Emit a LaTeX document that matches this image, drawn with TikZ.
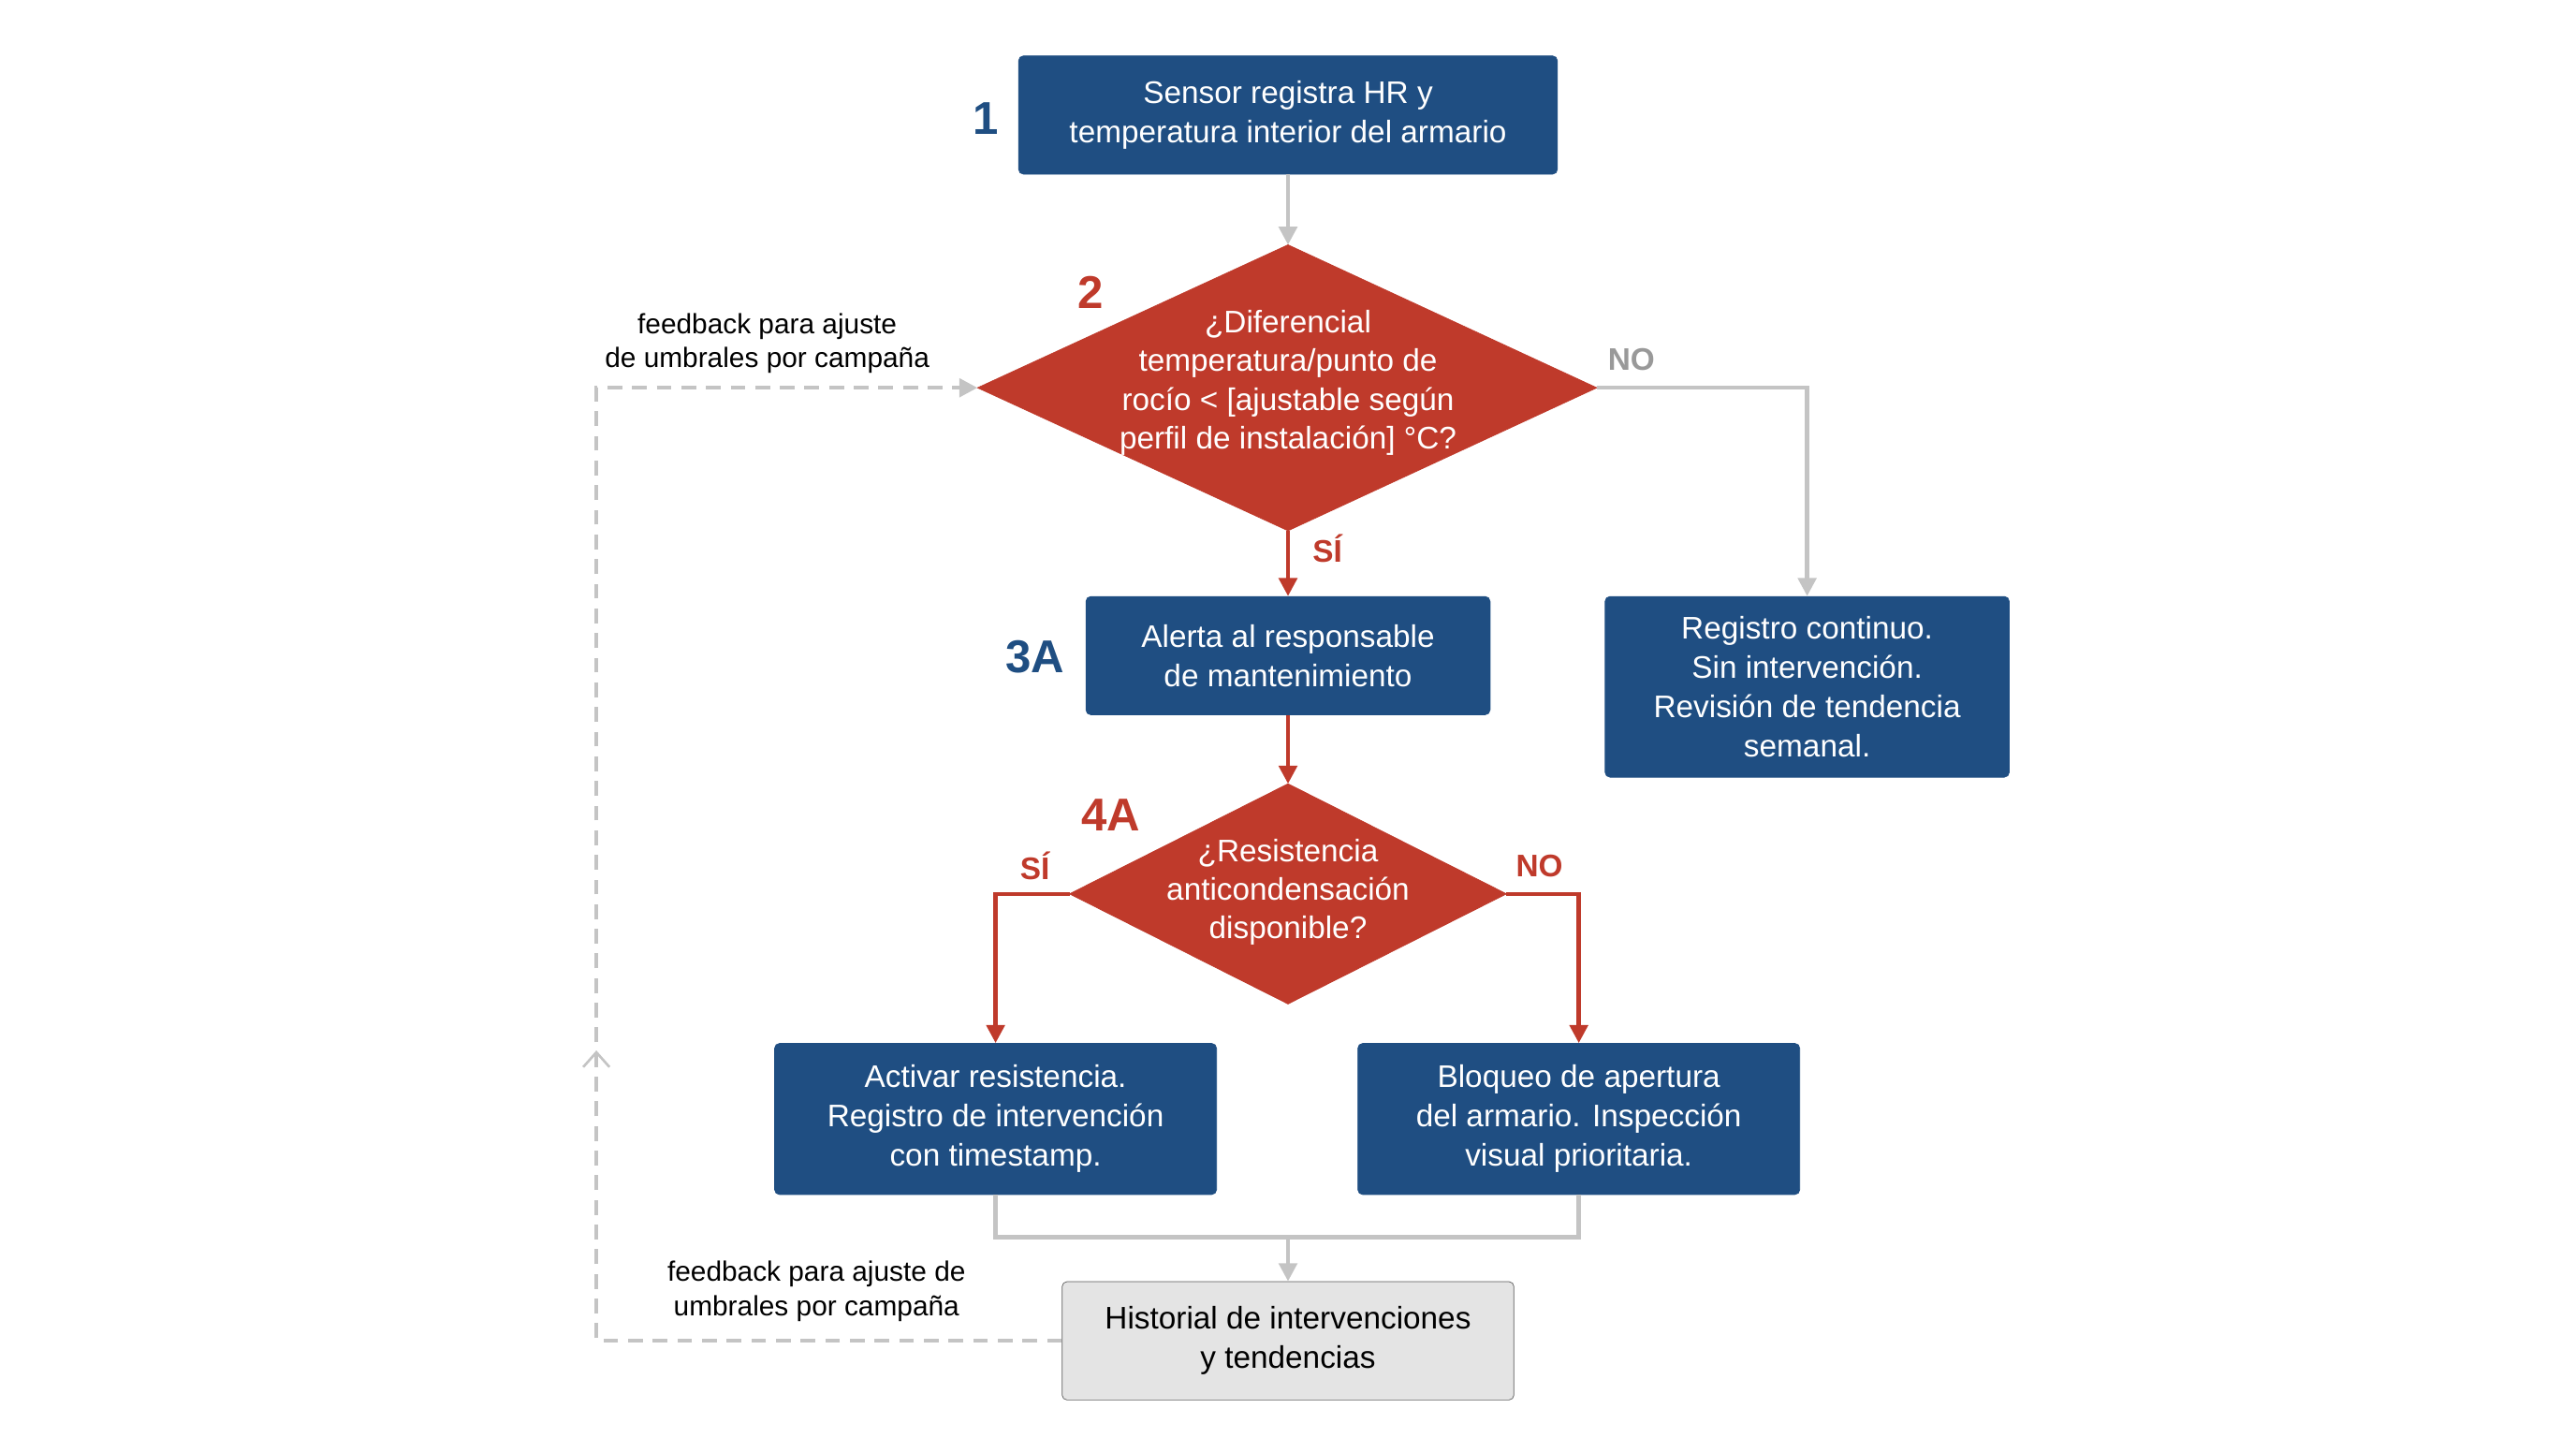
\documentclass[tikz,border=0pt]{standalone}
\usepackage{fontspec}
\setmainfont{Liberation Sans}
\usetikzlibrary{arrows.meta,shapes.geometric,decorations.markings}
\definecolor{cblue}{HTML}{1F4E82}
\definecolor{cred}{HTML}{BF3A2B}
\definecolor{cgray}{HTML}{C4C4C4}
\definecolor{hist}{HTML}{E4E4E4}
\begin{document}
\begin{tikzpicture}[x=1pt,y=-1pt,
 box/.style={draw=cblue,fill=cblue,rounded corners=3pt,text=white,align=center,font=\fontsize{19}{24}\selectfont,inner sep=0pt},
 dia/.style={diamond,draw=cred,fill=cred,text=white,align=center,font=\fontsize{19}{24}\selectfont,inner sep=0pt},
 num/.style={font=\fontsize{28}{30}\selectfont\bfseries},
 lab/.style={font=\fontsize{19}{22}\selectfont\bfseries},
 garr/.style={draw=cgray,line width=2.5pt,-{Triangle[length=11pt,width=11pt]}},
 gline/.style={draw=cgray,line width=2.5pt},
 rarr/.style={draw=cred,line width=2.5pt,-{Triangle[length=11pt,width=11pt]}},
 fb/.style={align=center,font=\fontsize{17}{21}\selectfont}]
\useasboundingbox (0,0) rectangle (1568,875);
\node[box,minimum width=328pt,minimum height=72pt] (b1) at (784,70) {Sensor registra HR y\\temperatura interior del armario};
\node[num,text=cblue] (n1) at (600,72) {1};
\path[draw=cred,fill=cred] (595,236) coordinate (d2l) -- (784,149) coordinate (d2t) -- (972,236) coordinate (d2r) -- (784,323) coordinate (d2b) -- cycle;
\node[text=white,align=center,font=\fontsize{19}{23.5}\selectfont] (d2) at (784,233) {¿Diferencial\\temperatura/punto de\\rocío < [ajustable según\\perfil de instalación] °C?};
\node[num,text=cred] (n2) at (664,178) {2};
\node[box,minimum width=246pt,minimum height=72pt] (b3) at (784,399) {Alerta al responsable\\de mantenimiento};
\node[num,text=cblue] (n3) at (630,400) {3A};
\node[box,minimum width=246pt,minimum height=110pt] (br) at (1100,418) {Registro continuo.\\Sin intervención.\\Revisión de tendencia\\semanal.};
\path[draw=cred,fill=cred] (651,544) coordinate (d4l) -- (784,477) coordinate (d4t) -- (917,544) coordinate (d4r) -- (784,611) coordinate (d4b) -- cycle;
\node[text=white,align=center,font=\fontsize{19}{23.5}\selectfont] (d4) at (784,543) {¿Resistencia\\anticondensación\\disponible?};
\node[num,text=cred] (n4) at (676,496) {4A};
\node[box,minimum width=269pt,minimum height=92pt] (ba) at (606,681) {Activar resistencia.\\Registro de intervención\\con timestamp.};
\node[box,minimum width=269pt,minimum height=92pt] (bb) at (961,681) {Bloqueo de apertura\\del armario. Inspección\\visual prioritaria.};
\node[box,draw=gray!70!black,fill=hist,text=black,minimum width=275pt,minimum height=72pt] (bh) at (784,816) {Historial de intervenciones\\y tendencias};
% connectors
\draw[garr] (b1.south) -- (d2t);
\draw[garr] (d2r) -- (1100,236) -- (br.north);
\node[lab,text=gray!80] (lno1) at (993,219) {NO};
\draw[rarr] (d2b) -- (b3.north);
\node[lab,text=cred] (lsi1) at (808,334) {SÍ};
\draw[rarr] (b3.south) -- (d4t);
\draw[rarr] (d4l) -- (606,544) -- (ba.north);
\draw[rarr] (d4r) -- (961,544) -- (bb.north);
\node[lab,text=cred] (lsi2) at (630,527) {SÍ};
\node[lab,text=cred] (lno2) at (937,527) {NO};
\draw[gline] (ba.south) -- (606,753) -- (961,753) -- (bb.south);
\coordinate (mj) at (784,753);
\draw[garr] (mj) -- (bh.north);
\draw[draw=cgray,line width=2.5pt,dash pattern=on 9pt off 6pt,-{Triangle[length=11pt,width=11pt]},
  postaction={decorate},decoration={markings,mark=at position 0.42 with {\arrow[cgray,line width=1.5pt]{Straight Barb[length=9pt,width=16pt]}}}]
  (bh.west) -- (363,816) -- (363,236) -- (d2l);
\node[fb] (f1) at (467,209) {feedback para ajuste\\de umbrales por campaña};
\node[fb] (f2) at (497,786) {feedback para ajuste de\\umbrales por campaña};
\end{tikzpicture}
\end{document}
